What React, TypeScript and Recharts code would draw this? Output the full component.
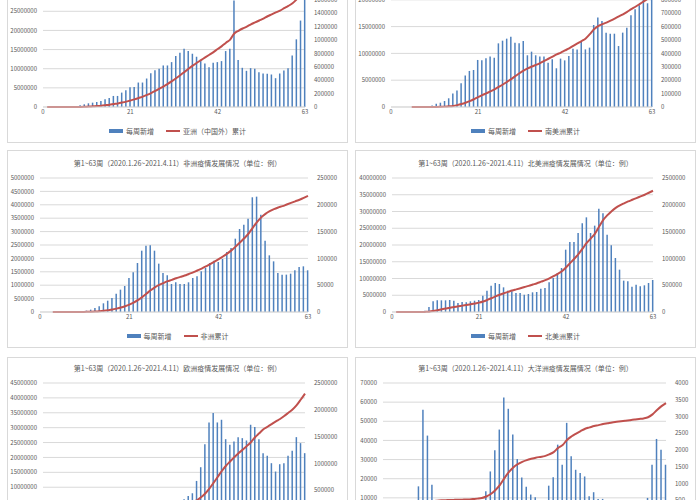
import { ComposedChart, Bar, Line, XAxis, YAxis, CartesianGrid } from "recharts";

const FONT = '"Noto Sans CJK SC", "Noto Sans", sans-serif';
const BAR = "#4F81BD";
const LINE = "#C0504D";
const GRID = "#D9D9D9";
const TEXT = "#595959";
const PANEL_W = 341;
const PANEL_H = 198;
const PLOT_H = 134;
const XAXIS_H = 14;

const weeks = Array.from({ length: 63 }, (_, i) => i + 1);
const xTicks = [0, 21, 42, 63];
const weeklyLabel = "每周新增";
const period = "第1~63周（2020.1.26~2021.4.11）";

// 亚洲（中国外）: only the lower part of the panel is in view
const asiaWeekly = [
	0, 0, 0, 100, 300, 1000, 3000, 9000, 25000, 40000,
	55000, 65000, 75000, 90000, 115000, 135000, 165000, 165000, 215000, 250000,
	295000, 300000, 365000, 365000, 425000, 505000, 550000, 570000, 620000, 620000,
	670000, 760000, 810000, 870000, 835000, 795000, 750000, 685000, 650000, 595000,
	660000, 670000, 685000, 835000, 870000, 1590000, 700000, 585000, 540000, 580000,
	570000, 520000, 500000, 495000, 485000, 430000, 500000, 545000, 580000, 770000,
	1010000, 1290000, 1750000,
];
const asiaTotal = [
	0, 0, 0, 0, 0, 0, 0, 10000, 30000, 70000,
	120000, 190000, 260000, 350000, 470000, 600000, 770000, 930000, 1150000, 1400000,
	1700000, 2000000, 2350000, 2700000, 3150000, 3650000, 4200000, 4800000, 5400000, 6050000,
	6750000, 7500000, 8300000, 9150000, 10000000, 10800000, 11550000, 12250000, 12950000, 13650000,
	14350000, 15150000, 15900000, 16800000, 17600000, 19200000, 19900000, 20500000, 21000000, 21600000,
	22100000, 22600000, 23100000, 23700000, 24200000, 24700000, 25200000, 25800000, 26400000, 27100000,
	28100000, 29300000, 30900000,
];
const asiaLeftMax = 35000000;
const asiaRightMax = 2000000;
const asiaLeftTicks = [0, 5000000, 10000000, 15000000, 20000000, 25000000];
const asiaRightTicks = [0, 200000, 400000, 600000, 800000, 1000000, 1200000, 1400000, 1600000];

// 南美洲
const southAmericaWeekly = [
	null, null, null, null, 0, 50, 300, 1500, 5000, 12000,
	25000, 32000, 45000, 65000, 100000, 124000, 177000, 236000, 269000, 276000,
	351000, 348000, 363000, 376000, 368000, 475000, 495000, 510000, 525000, 480000,
	475000, 493000, 386000, 413000, 386000, 376000, 376000, 331000, 356000, 289000,
	361000, 348000, 381000, 435000, 430000, 485000, 430000, 443000, 612000, 667000,
	642000, 555000, 547000, 547000, 455000, 555000, 592000, 684000, 729000, 759000,
	799000, 774000, 850000,
];
const southAmericaTotal = [
	null, null, null, null, 0, 0, 0, 2000, 5000, 10000,
	20000, 40000, 70000, 120000, 200000, 350000, 550000, 800000, 1100000, 1450000,
	1850000, 2200000, 2550000, 2900000, 3300000, 3750000, 4200000, 4700000, 5200000, 5750000,
	6300000, 6800000, 7200000, 7550000, 7850000, 8200000, 8600000, 9000000, 9400000, 9800000,
	10150000, 10550000, 10950000, 11400000, 11850000, 12300000, 12800000, 13600000, 14500000, 15100000,
	15450000, 15750000, 16100000, 16500000, 16900000, 17300000, 17750000, 18250000, 18700000, 19200000,
	19700000, 20200000, 20700000,
];
const southAmericaLeftMax = 25000000;
const southAmericaRightMax = 1000000;
const southAmericaLeftTicks = [0, 5000000, 10000000, 15000000, 20000000];
const southAmericaRightTicks = [0, 100000, 200000, 300000, 400000, 500000, 600000, 700000, 800000];

// 非洲
const africaWeekly = [
	null, null, 0, 0, 10, 50, 200, 600, 1000, 1900,
	2500, 4400, 7500, 10600, 16200, 21100, 26100, 34200, 41700, 48500,
	63400, 74000, 91400, 114400, 123800, 124400, 114400, 90200, 72800, 68400,
	52200, 55400, 52200, 52200, 55400, 63400, 66600, 75900, 82100, 91400,
	95800, 93300, 98900, 112000, 119400, 136800, 154900, 163000, 174200, 214000,
	215200, 181600, 133100, 105700, 94500, 72800, 69700, 69700, 71500, 77800,
	84000, 85200, 77800,
];
const africaTotal = [
	null, null, 0, 0, 0, 0, 0, 1000, 2000, 4000,
	6000, 10000, 17000, 28000, 44000, 65000, 90000, 125000, 165000, 215000,
	275000, 350000, 440000, 555000, 680000, 810000, 920000, 1010000, 1080000, 1150000,
	1200000, 1260000, 1310000, 1360000, 1420000, 1480000, 1550000, 1620000, 1700000, 1790000,
	1880000, 1970000, 2070000, 2180000, 2300000, 2440000, 2590000, 2750000, 2920000, 3140000,
	3350000, 3530000, 3660000, 3760000, 3840000, 3900000, 3950000, 4010000, 4070000, 4130000,
	4190000, 4260000, 4330000,
];
const africaLeftMax = 5000000;
const africaRightMax = 250000;
const africaLeftTicks = [0, 500000, 1000000, 1500000, 2000000, 2500000, 3000000, 3500000, 4000000, 4500000, 5000000];
const africaRightTicks = [0, 50000, 100000, 150000, 200000, 250000];

// 北美洲
const northAmericaWeekly = [
	0, 0, 10, 10, 20, 50, 1500, 25000, 93000, 199000,
	218000, 218000, 218000, 224000, 211000, 168000, 187000, 180000, 199000, 211000,
	224000, 305000, 398000, 491000, 541000, 522000, 460000, 398000, 386000, 354000,
	354000, 323000, 336000, 367000, 373000, 435000, 448000, 553000, 634000, 728000,
	821000, 1163000, 1306000, 1306000, 1474000, 1654000, 1766000, 1474000, 1611000, 1928000,
	1841000, 1443000, 1244000, 1007000, 790000, 585000, 572000, 473000, 510000, 479000,
	498000, 541000, 597000,
];
const northAmericaTotal = [
	0, 0, 0, 0, 0, 0, 2000, 30000, 100000, 300000,
	550000, 800000, 1050000, 1300000, 1500000, 1700000, 1900000, 2100000, 2300000, 2550000,
	2800000, 3150000, 3600000, 4100000, 4650000, 5150000, 5600000, 6000000, 6400000, 6750000,
	7100000, 7450000, 7800000, 8200000, 8600000, 9050000, 9500000, 10050000, 10700000, 11400000,
	12150000, 13300000, 14600000, 15900000, 17300000, 18900000, 20600000, 22000000, 23400000, 25500000,
	27500000, 28900000, 30100000, 31100000, 31850000, 32450000, 33000000, 33500000, 34000000, 34500000,
	35000000, 35600000, 36200000,
];
const northAmericaLeftMax = 40000000;
const northAmericaRightMax = 2500000;
const northAmericaLeftTicks = [0, 5000000, 10000000, 15000000, 20000000, 25000000, 30000000, 35000000, 40000000];
const northAmericaRightTicks = [0, 500000, 1000000, 1500000, 2000000, 2500000];

// 欧洲: only the upper part of the panel is in view
const europeWeekly = [
	0, 0, 10, 10, 30, 600, 15000, 70000, 150000, 220000,
	250000, 240000, 220000, 200000, 180000, 150000, 130000, 120000, 110000, 100000,
	100000, 105000, 110000, 115000, 120000, 130000, 150000, 170000, 200000, 240000,
	270000, 290000, 310000, 330000, 393000, 443000, 673000, 929000, 1359000, 1764000,
	1939000, 1764000, 1814000, 1452000, 1347000, 1409000, 1490000, 1471000, 1428000, 1721000,
	1677000, 1452000, 1191000, 1141000, 1004000, 848000, 985000, 1004000, 1141000, 1234000,
	1490000, 1378000, 1191000,
];
const europeTotal = [
	0, 0, 0, 0, 0, 0, 20000, 90000, 240000, 460000,
	710000, 950000, 1170000, 1370000, 1550000, 1700000, 1830000, 1950000, 2060000, 2160000,
	2260000, 2370000, 2480000, 2590000, 2710000, 2840000, 2990000, 3160000, 3360000, 3500000,
	3750000, 4000000, 4300000, 4600000, 4900000, 5200000, 5600000, 6600000, 7900000, 9550000,
	11450000, 13450000, 15450000, 17200000, 18650000, 20100000, 21450000, 22550000, 23800000, 25100000,
	26800000, 28100000, 29450000, 30300000, 31200000, 32100000, 32900000, 33900000, 35000000, 36100000,
	37550000, 39450000, 41450000,
];
const europeLeftMax = 45000000;
const europeRightMax = 2500000;
const europeLeftTicks = [10000000, 15000000, 20000000, 25000000, 30000000, 35000000, 40000000, 45000000];
const europeRightTicks = [500000, 1000000, 1500000, 2000000, 2500000];

// 大洋洲
const oceaniaWeekly = [
	0, 0, 0, 0, 10, 100, 400, 915, 3200, 2430,
	965, 420, 200, 110, 70, 50, 60, 80, 100, 150,
	220, 300, 770, 1360, 1990, 2610, 3570, 3230, 2460, 1730,
	1180, 900, 670, 590, 420, 380, 935, 1190, 2160, 1560,
	2810, 1810, 1410, 1310, 1210, 620, 740, 540, 540, 400,
	480, 380, 300, 320, 280, 300, 290, 330, 570, 1560,
	2330, 2010, 1560,
];
const oceaniaTotal = [
	0, 0, 0, 0, 50, 200, 600, 1500, 4700, 7100,
	8100, 8500, 8700, 8800, 8900, 8950, 9000, 9100, 9200, 9400,
	9600, 9900, 10700, 12000, 14000, 16600, 20200, 23400, 25900, 27600,
	28800, 29700, 30400, 31000, 31400, 31800, 32700, 33900, 36100, 37600,
	40400, 42200, 43600, 44900, 46100, 46800, 47500, 48000, 48600, 49000,
	49400, 49700, 50000, 50300, 50600, 50900, 51200, 51500, 52100, 53600,
	55900, 57900, 59500,
];
const oceaniaLeftMax = 70000;
const oceaniaRightMax = 4000;
const oceaniaLeftTicks = [10000, 20000, 30000, 40000, 50000, 60000, 70000];
const oceaniaRightTicks = [500, 1000, 1500, 2000, 2500, 3000, 3500, 4000];

type PanelProps = {
	x: number;
	y: number;
	region: string;
	weekly: (number | null)[];
	total: (number | null)[];
	leftMax: number;
	rightMax: number;
	leftTicks: number[];
	rightTicks: number[];
	plotLeft: number;
	plotRight: number;
	plotTop: number;
	showTitle?: boolean;
	showBottom?: boolean;
};

const tickStyle = { fontSize: 6, fill: TEXT, fontFamily: FONT };

function Panel({
	x,
	y,
	region,
	weekly,
	total,
	leftMax,
	rightMax,
	leftTicks,
	rightTicks,
	plotLeft,
	plotRight,
	plotTop,
	showTitle = true,
	showBottom = true,
}: PanelProps) {
	const data = weeks.map((w, i) => ({
		week: w,
		weekly: weekly[i],
		total: total[i],
	}));
	const bottom = PANEL_H - plotTop - PLOT_H - XAXIS_H;

	return (
		<div
			style={{
				position: "absolute",
				left: x,
				top: y,
				width: PANEL_W,
				height: PANEL_H,
				outline: `1px solid ${GRID}`,
				outlineOffset: -1,
				background: "#fff",
				fontFamily: FONT,
			}}
		>
			{showTitle && (
				<div
					style={{
						position: "absolute",
						left: 0,
						right: 0,
						top: plotTop - 20,
						textAlign: "center",
						fontSize: 7,
						lineHeight: "10px",
						color: TEXT,
						whiteSpace: "nowrap",
					}}
				>
					{period}
					{region}疫情发展情况（单位：例）
				</div>
			)}
			<ComposedChart
				width={PANEL_W}
				height={PANEL_H}
				data={data}
				margin={{ top: plotTop, right: 0, left: 0, bottom }}
			>
				<CartesianGrid yAxisId="total" vertical={false} stroke={GRID} />
				<XAxis
					dataKey="week"
					type="number"
					domain={[0, 63]}
					ticks={xTicks}
					interval={0}
					height={XAXIS_H}
					tickSize={0}
					tickMargin={3}
					tickLine={false}
					axisLine={{ stroke: GRID }}
					tick={showBottom ? tickStyle : false}
				/>
				<YAxis
					yAxisId="total"
					orientation="left"
					width={plotLeft}
					domain={[0, leftMax]}
					ticks={leftTicks}
					interval={0}
					tickSize={0}
					tickMargin={6}
					tickLine={false}
					axisLine={false}
					tick={tickStyle}
				/>
				<YAxis
					yAxisId="weekly"
					orientation="right"
					width={PANEL_W - plotRight}
					domain={[0, rightMax]}
					ticks={rightTicks}
					interval={0}
					tickSize={0}
					tickMargin={9}
					tickLine={false}
					axisLine={false}
					tick={tickStyle}
				/>
				<Bar
					yAxisId="weekly"
					dataKey="weekly"
					fill={BAR}
					barSize={1.5}
					isAnimationActive={false}
				/>
				<Line
					yAxisId="total"
					dataKey="total"
					type="monotone"
					stroke={LINE}
					strokeWidth={2}
					dot={false}
					isAnimationActive={false}
				/>
			</ComposedChart>
			{showBottom && (
				<div
					style={{
						position: "absolute",
						left: 0,
						right: 0,
						top: plotTop + PLOT_H + 19,
						display: "flex",
						justifyContent: "center",
						alignItems: "center",
						fontSize: 7,
						lineHeight: "10px",
						color: TEXT,
						whiteSpace: "nowrap",
					}}
				>
					<span style={{ width: 14, height: 4, background: BAR, marginRight: 3 }} />
					<span>{weeklyLabel}</span>
					<span
						style={{ width: 14, height: 2, background: LINE, marginLeft: 12, marginRight: 3 }}
					/>
					<span>{region}累计</span>
				</div>
			)}
		</div>
	);
}

export default function App() {
	return (
		<div
			style={{
				position: "absolute",
				left: 0,
				top: 0,
				width: 700,
				height: 500,
				overflow: "hidden",
				background: "#fff",
			}}
		>
			<Panel
				x={7}
				y={-55}
				region="亚洲（中国外）"
				weekly={asiaWeekly}
				total={asiaTotal}
				leftMax={asiaLeftMax}
				rightMax={asiaRightMax}
				leftTicks={asiaLeftTicks}
				rightTicks={asiaRightTicks}
				plotLeft={36}
				plotRight={298}
				plotTop={28}
				showTitle={false}
			/>
			<Panel
				x={355}
				y={-55}
				region="南美洲"
				weekly={southAmericaWeekly}
				total={southAmericaTotal}
				leftMax={southAmericaLeftMax}
				rightMax={southAmericaRightMax}
				leftTicks={southAmericaLeftTicks}
				rightTicks={southAmericaRightTicks}
				plotLeft={36}
				plotRight={297}
				plotTop={28}
				showTitle={false}
			/>
			<Panel
				x={7}
				y={150}
				region="非洲"
				weekly={africaWeekly}
				total={africaTotal}
				leftMax={africaLeftMax}
				rightMax={africaRightMax}
				leftTicks={africaLeftTicks}
				rightTicks={africaRightTicks}
				plotLeft={33}
				plotRight={301}
				plotTop={28}
			/>
			<Panel
				x={355}
				y={150}
				region="北美洲"
				weekly={northAmericaWeekly}
				total={northAmericaTotal}
				leftMax={northAmericaLeftMax}
				rightMax={northAmericaRightMax}
				leftTicks={northAmericaLeftTicks}
				rightTicks={northAmericaRightTicks}
				plotLeft={37}
				plotRight={298}
				plotTop={28}
			/>
			<Panel
				x={7}
				y={357}
				region="欧洲"
				weekly={europeWeekly}
				total={europeTotal}
				leftMax={europeLeftMax}
				rightMax={europeRightMax}
				leftTicks={europeLeftTicks}
				rightTicks={europeRightTicks}
				plotLeft={36}
				plotRight={298}
				plotTop={26}
				showBottom={false}
			/>
			<Panel
				x={355}
				y={357}
				region="大洋洲"
				weekly={oceaniaWeekly}
				total={oceaniaTotal}
				leftMax={oceaniaLeftMax}
				rightMax={oceaniaRightMax}
				leftTicks={oceaniaLeftTicks}
				rightTicks={oceaniaRightTicks}
				plotLeft={28}
				plotRight={311}
				plotTop={26}
				showBottom={false}
			/>
		</div>
	);
}
